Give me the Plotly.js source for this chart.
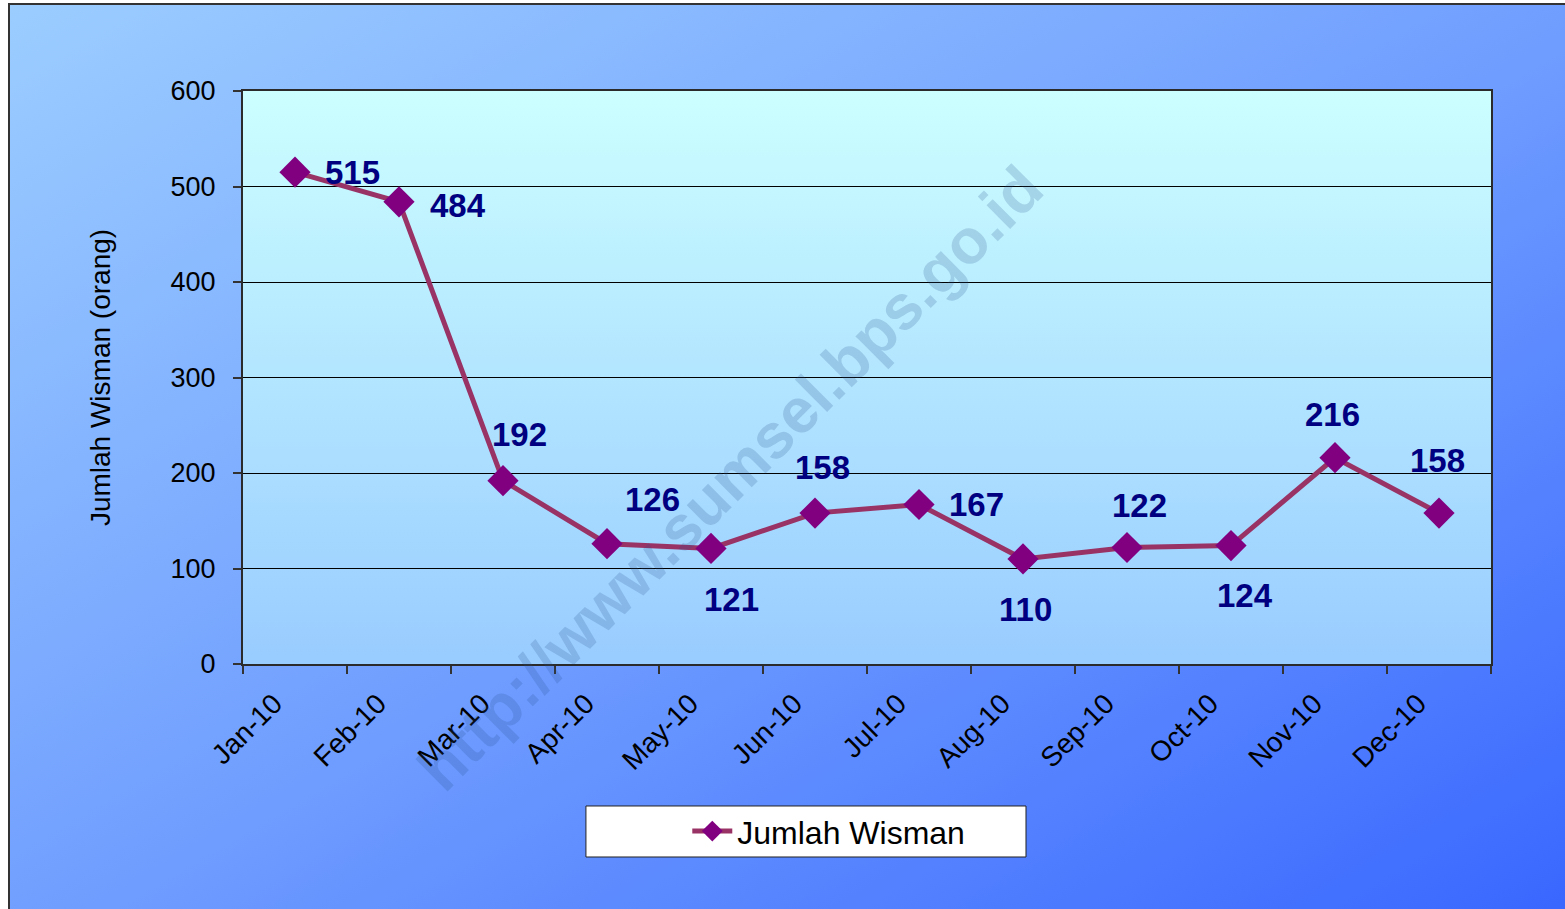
<!DOCTYPE html>
<html>
<head>
<meta charset="utf-8">
<script src="https://cdn.plot.ly/plotly-3.0.1.min.js"></script>
<style>
  html, body { margin: 0; padding: 0; background: #ffffff; width: 1565px; height: 909px; overflow: hidden; }
  #bg { position: absolute; left: 8px; top: 3px; width: 1600px; height: 950px;
        border-left: 2px solid #333; border-top: 2px solid #333;
        background: linear-gradient(to bottom right, #9ccdff 0%, #6f9dff 50%, #3563ff 100%); }
  #chart { position: absolute; left: 0; top: 0; width: 1565px; height: 909px; }
</style>
</head>
<body>
<div id="bg"></div>
<div id="chart"></div>
<script>
// ---- data ----
const months = ["Jan-10","Feb-10","Mar-10","Apr-10","May-10","Jun-10","Jul-10","Aug-10","Sep-10","Oct-10","Nov-10","Dec-10"];
const wisman = [515, 484, 192, 126, 121, 158, 167, 110, 122, 124, 216, 158];
const seriesName = "Jumlah Wisman";
const yTitle = "Jumlah Wisman (orang)";
const watermark = "http://www.sumsel.bps.go.id";

// ---- label placement (pixel offsets, styling only) ----
const labelDx = [57, 59, 16, 45, 20, 7, 57, 2, 12, 14, -3, -2];
const labelDy = [0, -4, 46, 44, -51, 46, 0, -51, 42, -50, 43, 53];

const plotGrad = 'data:image/svg+xml;charset=utf-8,' + encodeURIComponent(
  '<svg xmlns="http://www.w3.org/2000/svg" width="100" height="100" preserveAspectRatio="none">' +
  '<defs><linearGradient id="g" x1="0" y1="0" x2="0" y2="1">' +
  '<stop offset="0" stop-color="#ccffff"/><stop offset="1" stop-color="#99ccff"/>' +
  '</linearGradient></defs><rect width="100" height="100" fill="url(#g)"/></svg>');

const trace = {
  type: 'scatter',
  mode: 'lines+markers',
  x: months,
  y: wisman,
  name: seriesName,
  line: { color: '#993366', width: 5 },
  marker: { symbol: 'diamond', size: 24, color: '#800080' },
  cliponaxis: false,
  hoverinfo: 'x+y'
};

const annotations = [{
  xref: 'paper', yref: 'paper', x: 0.39, y: 0.325,
  xanchor: 'center', yanchor: 'middle',
  text: '<b>' + watermark + '</b>', showarrow: false, textangle: -45,
  font: { family: 'Arial, "Liberation Sans", sans-serif', size: 63, color: 'rgba(40,80,140,0.2)' }
}].concat(wisman.map((v, i) => ({
  x: months[i], y: v, xref: 'x', yref: 'y',
  text: String(v), showarrow: false,
  xshift: labelDx[i], yshift: labelDy[i],
  font: { family: 'Arial, "Liberation Sans", sans-serif', size: 33, color: '#000080', weight: 'bold' }
})));

const layout = {
  width: 1565, height: 909,
  margin: { l: 243, r: 74, t: 91, b: 245 },
  paper_bgcolor: 'rgba(0,0,0,0)',
  plot_bgcolor: 'rgba(0,0,0,0)',
  font: { family: 'Arial, "Liberation Sans", sans-serif', color: '#000000' },
  showlegend: true,
  xaxis: {
    type: 'category',
    tickson: 'boundaries',
    ticks: 'outside', ticklen: 8, tickcolor: '#333', tickwidth: 1.5,
    tickangle: -45,
    tickfont: { size: 28, color: '#000' },
    ticklabelstandoff: 10,
    ticklabelshift: -21,
    showgrid: false,
    showline: true, mirror: true, linecolor: '#2b2b2b', linewidth: 2,
    range: [-0.5, 11.5]
  },
  yaxis: {
    range: [0, 600], dtick: 100,
    ticks: 'outside', ticklen: 8, tickcolor: '#333', tickwidth: 1.5,
    tickfont: { size: 27, color: '#000' },
    ticklabelstandoff: 12,
    showgrid: true, gridcolor: '#000000', gridwidth: 1,
    zeroline: false,
    showline: true, mirror: true, linecolor: '#2b2b2b', linewidth: 2,
    title: { text: yTitle, font: { size: 28, color: '#000' }, standoff: 52 },
    automargin: false
  },
  legend: {
    x: 0.356, y: -0.292, xanchor: 'left', yanchor: 'middle',
    bgcolor: 'rgba(0,0,0,0)', borderwidth: 0,
    font: { size: 32, color: '#000' },
    itemwidth: 40
  },
  shapes: [{
    type: 'rect', xref: 'paper', yref: 'paper', layer: 'below',
    x0: 0.2748, x1: 0.6274, y0: -0.3368, y1: -0.2478,
    fillcolor: '#ffffff', line: { color: '#222', width: 1 }
  }],
  images: [{
    source: plotGrad, xref: 'paper', yref: 'paper',
    x: 0, y: 1, sizex: 1, sizey: 1, xanchor: 'left', yanchor: 'top',
    sizing: 'stretch', layer: 'below'
  }],
  annotations: annotations
};

Plotly.newPlot('chart', [trace], layout, { displayModeBar: false });
</script>
</body>
</html>
